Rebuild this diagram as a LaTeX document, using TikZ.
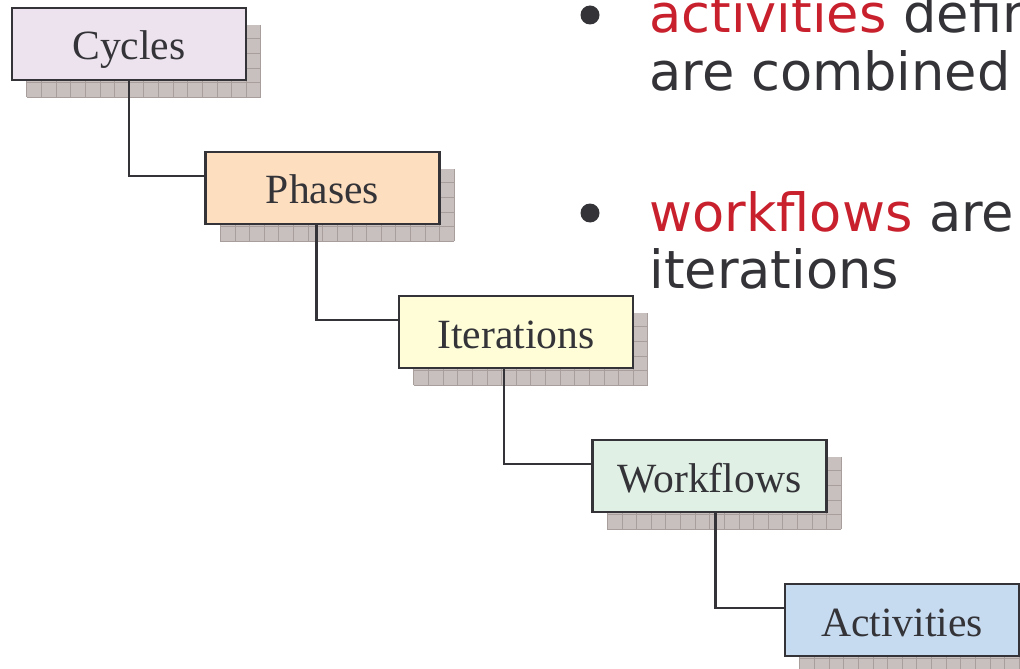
\documentclass[tikz,border=0pt]{standalone}
\usepackage{fontspec}
\setmainfont{Liberation Serif}
\newfontfamily\bulletfont{DejaVu Sans}
\usetikzlibrary{positioning}
\definecolor{ink}{HTML}{333338}
\definecolor{hot}{HTML}{C8202C}
\definecolor{shadefill}{HTML}{C8C0BE}
\definecolor{shadegrid}{HTML}{A89E9C}
\definecolor{cyclefill}{HTML}{EDE3EF}
\definecolor{phasefill}{HTML}{FDDFC0}
\definecolor{iterfill}{HTML}{FEFDD8}
\definecolor{flowfill}{HTML}{E0F0E4}
\definecolor{actfill}{HTML}{C7DBF0}
\pgfdeclarelayer{shadelayer}
\pgfdeclarelayer{wirelayer}
\pgfsetlayers{shadelayer,wirelayer,main}
\tikzset{
  levelbox/.style={draw=ink, line width=1.2pt, minimum width=117pt, minimum height=36pt,
    inner sep=0pt, text=ink, text height=16pt, text depth=0pt,
    font=\fontsize{20.8}{24}\selectfont},
  wire/.style={draw=ink, line width=1.1pt},
  bullettext/.style={anchor=base west, inner sep=0pt, text=ink,
    font=\bulletfont\fontsize{26.3}{29}\selectfont},
  bulletdot/.style={circle, fill=ink, inner sep=0pt, minimum size=9.5pt}
}
% grid-patterned drop shadow behind a box
\newcommand{\gridshadow}[1]{%
  \begin{pgfonlayer}{shadelayer}
    \begin{scope}[shift={(#1.south west)}, shift={(8pt,-8pt)}]
      \fill[shadefill] (0pt,0pt) rectangle (117pt,36pt);
      \draw[shadegrid, line width=0.4pt, step=7.3125pt] (0pt,0pt) grid (117pt,36pt);
    \end{scope}
  \end{pgfonlayer}}
\begin{document}
\begin{tikzpicture}[x=0.5pt, y=-0.5pt]
  \useasboundingbox (0,0) rectangle (1020,668);
  \clip (0,0) rectangle (1020,668);

  % hierarchy boxes
  \node[levelbox, fill=cyclefill] (cyc) at (129,44) {Cycles};
  \node[levelbox, fill=phasefill] (pha) at (322.5,188) {Phases};
  \node[levelbox, fill=iterfill]  (ite) at (516,332) {Iterations};
  \node[levelbox, fill=flowfill]  (wfl) at (709.5,476) {Workflows};
  \node[levelbox, fill=actfill]   (act) at (902,620) {Activities};

  \gridshadow{cyc}
  \gridshadow{pha}
  \gridshadow{ite}
  \gridshadow{wfl}
  \gridshadow{act}

  % elbow connectors
  \begin{pgfonlayer}{wirelayer}
    \draw[wire] (cyc.south) |- ([yshift=6pt]pha.west);
    \draw[wire] ([xshift=-3pt]pha.south) |- ([yshift=6pt]ite.west);
    \draw[wire] ([xshift=-6pt]ite.south) |- ([yshift=6pt]wfl.west);
    \draw[wire] ([xshift=3pt]wfl.south) |- ([yshift=6pt]act.west);
  \end{pgfonlayer}

  % bullet list
  \node[bulletdot] (d1) at (590,15) {};
  \node[bullettext] (t1) at (649,33) {\textcolor{hot}{activities} define};
  \node[bullettext] (t2) at (649,91) {are combined};
  \node[bulletdot] (d2) at (590,213) {};
  \node[bullettext] (t3) at (649,231) {\textcolor{hot}{workflows} are};
  \node[bullettext] (t4) at (649,288) {iterations};
\end{tikzpicture}
\end{document}
